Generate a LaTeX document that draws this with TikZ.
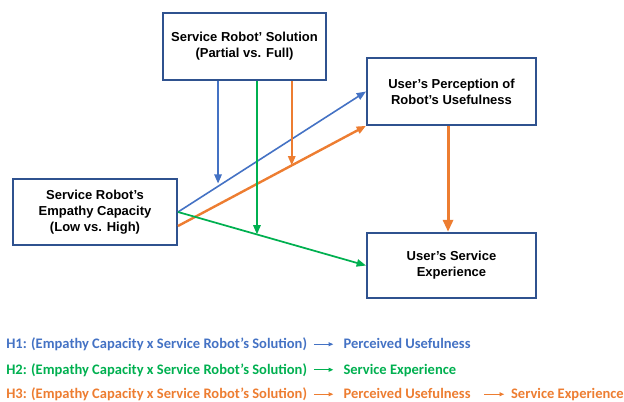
\documentclass[tikz,border=0pt]{standalone}
\usepackage{fontspec}
\setmainfont{Liberation Sans}
\newfontfamily\legfont{Carlito}
\usetikzlibrary{calc}
\usetikzlibrary{arrows.meta,positioning}

\definecolor{boxblue}{RGB}{47,82,143}
\definecolor{hblue}{RGB}{68,114,196}
\definecolor{hgreen}{RGB}{0,176,80}
\definecolor{horange}{RGB}{237,125,49}

\tikzset{
    block/.style={draw=boxblue, line width=1.5pt, fill=white, align=center,
        font=\fontsize{9.75}{11.8}\selectfont\bfseries,
        minimum width=123pt, minimum height=50pt, inner sep=2pt},
    wideblock/.style={block, minimum width=126.75pt},
    tip/.style={-{Triangle[length=7pt,width=5.5pt]}},
    bigtip/.style={-{Triangle[length=9pt,width=7.5pt]}},
    legend/.style={inner sep=0pt, font=\legfont\fontsize{10.9}{13}\selectfont\bfseries},
    legarrow/.style={-{Triangle[length=3.5pt,width=3pt]}, line width=0.7pt},
}

\begin{document}
\begin{tikzpicture}[x=0.75pt, y=-0.75pt]
        \useasboundingbox (0,0) rectangle (624,402);

        % boxes
        \node[block, minimum width=122.25pt] (sol) at (244.5,46.5) {Service Robot’ Solution\\(Partial vs. Full)};
        \node[wideblock] (use) at (451.5,91.5) {User’s Perception of\\Robot’s Usefulness};
        \node[block] (emp) at (95,212) {Service Robot’s\\Empathy Capacity\\(Low vs. High)};
        \node[wideblock, minimum height=49pt] (exp) at (451.5,265.5) {User’s Service\\Experience};

        % main paths
        % ----------
        \coordinate (ostart) at ([yshift=-10.5pt]emp.east);
        \draw[hblue, line width=1.2pt, tip] (emp.east) -- (use.west);
        \draw[horange, line width=1.8pt, tip] (ostart) -- (use.south west);
        \draw[hgreen, line width=1.3pt, tip] (emp.east) -- (exp.west);
        \draw[horange, line width=2.2pt, bigtip] ([xshift=-2.6pt]use.south) -- ([xshift=-2.6pt]exp.north);

        % moderation by the solution
        % --------------------------
        % points on the paths
        \coordinate (btip) at ($(emp.east)!0.213!(use.west)$);
        \coordinate (gtip) at ($(emp.east)!0.42!(exp.west)$);
        \coordinate (otip) at ($(ostart)!0.605!(use.south west)$);

        % draw arrows
        \draw[hblue, line width=1.5pt, tip] (btip |- sol.south) -- ([yshift=2pt]btip);
        \draw[hgreen, line width=1.4pt, tip] (gtip |- sol.south) -- (gtip);
        \draw[horange, line width=1.4pt, tip] (otip |- sol.south) -- (otip);

        % hypotheses
        % ----------
        \node[legend, hblue, anchor=base west] (h1) at (6,348.5) {H1: (Empathy Capacity x Service Robot’s Solution)};
        \node[legend, hblue, base right=27pt of h1] (h1b) {Perceived Usefulness};
        \draw[hblue, legarrow] ([xshift=5pt]h1.east) -- ([xshift=-7.5pt]h1b.west |- h1.east);

        \node[legend, hgreen, anchor=base west] (h2) at (6,374) {H2: (Empathy Capacity x Service Robot’s Solution)};
        \node[legend, hgreen, base right=27pt of h2] (h2b) {Service Experience};
        \draw[hgreen, legarrow, line width=0.9pt] ([xshift=5pt]h2.east) -- ([xshift=-7.5pt]h2b.west |- h2.east);

        \node[legend, horange, anchor=base west] (h3) at (6,398.5) {H3: (Empathy Capacity x Service Robot’s Solution)};
        \node[legend, horange, base right=27pt of h3] (h3b) {Perceived Usefulness};
        \node[legend, horange, base right=30pt of h3b] (h3c) {Service Experience};
        \draw[horange, legarrow] ([xshift=5pt]h3.east) -- ([xshift=-7.5pt]h3b.west |- h3.east);
        \draw[horange, legarrow] ([xshift=10pt]h3b.east |- h3.east) -- ([xshift=-5pt]h3c.west |- h3.east);

\end{tikzpicture}
\end{document}
